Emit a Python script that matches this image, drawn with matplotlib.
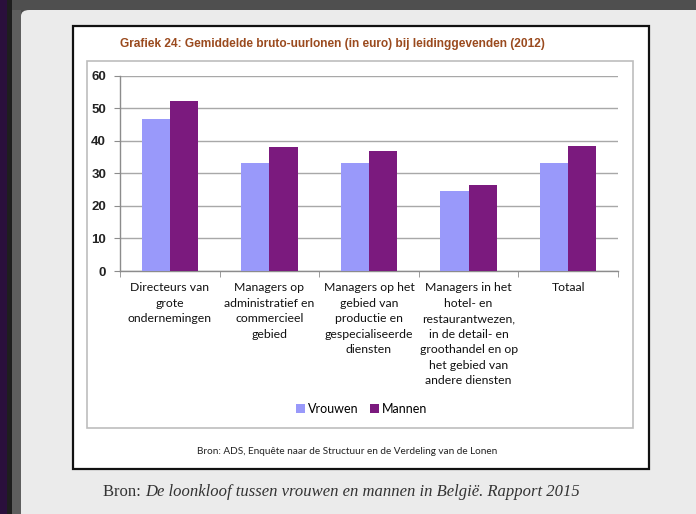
import matplotlib
matplotlib.use("Agg")
import matplotlib.pyplot as plt
from matplotlib.patches import Rectangle, FancyBboxPatch
import numpy as np

categories = [
    "Directeurs van\ngrote\nondernemingen",
    "Managers op\nadministratief en\ncommercieel\ngebied",
    "Managers op het\ngebied van\nproductie en\ngespecialiseerde\ndiensten",
    "Managers in het\nhotel- en\nrestaurantwezen,\nin de detail- en\ngroothandel en op\nhet gebied van\nandere diensten",
    "Totaal",
]
vrouwen = [46.6, 33.2, 33.3, 24.5, 33.3]
mannen = [52.3, 38.0, 37.0, 26.3, 38.3]
series_names = ["Vrouwen", "Mannen"]
yticks = [0, 10, 20, 30, 40, 50, 60]

W, H = 696, 514
fig = plt.figure(figsize=(W / 100, H / 100), dpi=100)
fig.patch.set_facecolor("#4d4d4d")

def px_rect(x0, y0, x1, y1, z, **kw):
    r = Rectangle((x0 / W, 1 - y1 / H), (x1 - x0) / W, (y1 - y0) / H,
                  transform=fig.transFigure, zorder=z, **kw)
    fig.patches.append(r)
    return r

# slide frame
px_rect(0, 0, 7, H, -10, facecolor="#2a0f3c", edgecolor="none")
px_rect(7, 0, 12, H, -10, facecolor="#1e1e1e", edgecolor="none")
px_rect(12, 0, 21, H, -10, facecolor="#5e5e5e", edgecolor="none")
px_rect(12, 0, W, 10, -10, facecolor="#4f4f4f", edgecolor="none")
slide = FancyBboxPatch((21 / W, 0 - 0.02), (W - 21) / W + 0.02, 1 - 10 / H + 0.02,
                       boxstyle="round,pad=0,rounding_size=0.012",
                       transform=fig.transFigure, facecolor="#ebebeb",
                       edgecolor="none", zorder=-9)
fig.patches.append(slide)
# white box with black border
px_rect(73, 26, 649, 469, -8, facecolor="white", edgecolor="#111111", linewidth=1.6)
# inner chart area border
px_rect(87, 61, 633, 428, -7, facecolor="white", edgecolor="#bdbdbd", linewidth=1.2)

ax = fig.add_axes([120 / W, 1 - 271 / H, (618 - 120) / W, (271 - 75.7) / H])
ax.set_facecolor("none")
x = np.arange(len(categories))
bw = 0.283
ax.bar(x - bw / 2, vrouwen, bw, color="#9999fa", label=series_names[0], zorder=3)
ax.bar(x + bw / 2, mannen, bw, color="#7b1a7e", label=series_names[1], zorder=3)

ax.set_xlim(-0.5, len(categories) - 0.5)
ax.set_ylim(0, 60)
ax.set_yticks(yticks)
ax.yaxis.grid(True, color="#a8a8a8", linewidth=1.0, zorder=0)
for s in ["top", "right"]:
    ax.spines[s].set_visible(False)
for s in ["left", "bottom"]:
    ax.spines[s].set_color("#8c8c8c")
    ax.spines[s].set_linewidth(1.0)
ax.tick_params(axis="y", length=4, color="#8c8c8c", labelsize=9.5,
               labelcolor="#222222", pad=6)
for lab in ax.get_yticklabels():
    lab.set_fontweight("bold")
    lab.set_family("Liberation Sans")

ax.set_xticks(x)
ax.set_xticklabels(categories, fontsize=8.8, family="Lato",
                   linespacing=1.5, va="top", color="#111111")
ax.tick_params(axis="x", which="major", length=0, pad=8)
ax.set_xticks(np.arange(len(categories) + 1) - 0.5, minor=True)
ax.tick_params(axis="x", which="minor", length=4, color="#8c8c8c")

leg = fig.legend(loc="center", bbox_to_anchor=(362 / W, 1 - 409 / H), ncol=2,
                 frameon=False, handlelength=0.7, handleheight=0.7,
                 handletextpad=0.25, columnspacing=0.9,
                 prop={"family": "Lato", "size": 9})

fig.text(332 / W, 1 - 44 / H,
         "Grafiek 24: Gemiddelde bruto-uurlonen (in euro) bij leidinggevenden (2012)",
         ha="center", va="center", fontsize=8.6, fontweight="bold",
         color="#9a4a1e", family="Liberation Sans")
fig.text(347 / W, 1 - 452 / H,
         "Bron: ADS, Enquête naar de Structuur en de Verdeling van de Lonen",
         ha="center", va="center", fontsize=7.2, color="#222222", family="Lato")

fig.text(103 / W, 1 - 492 / H, "Bron: ", ha="left", va="center", fontsize=12,
         color="#333333", family="Liberation Serif")
fig.text(145 / W, 1 - 492 / H,
         "De loonkloof tussen vrouwen en mannen in België. Rapport 2015",
         ha="left", va="center", fontsize=12, style="italic",
         color="#333333", family="Liberation Serif")

fig.savefig("out.png", dpi=100, facecolor=fig.get_facecolor())
